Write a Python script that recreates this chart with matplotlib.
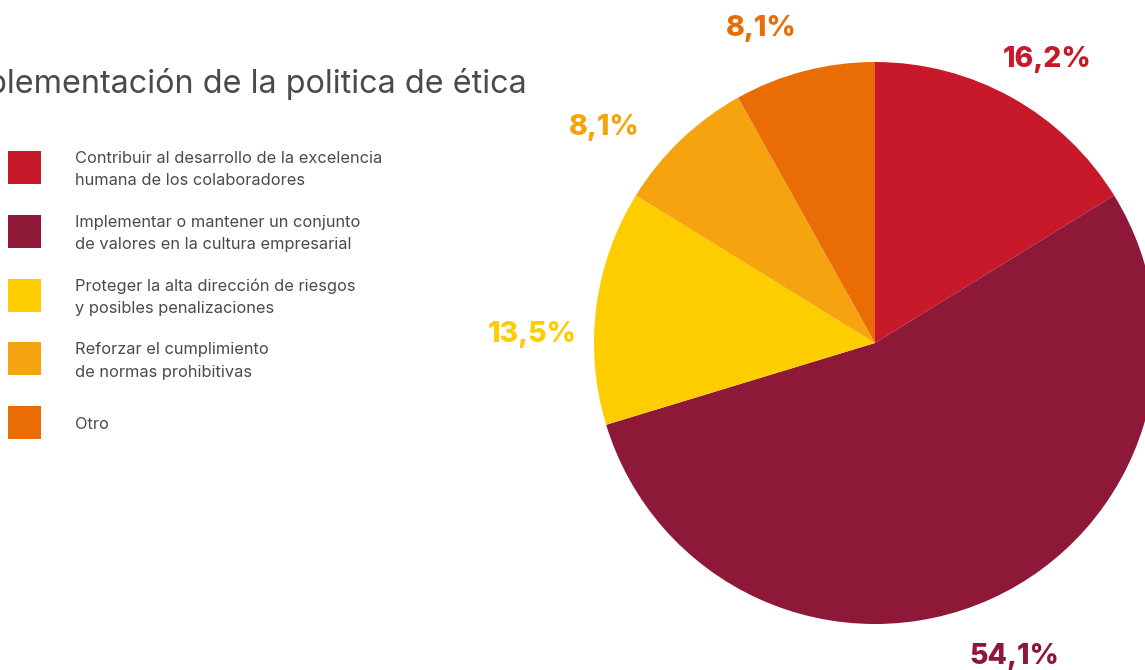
import matplotlib
matplotlib.use("Agg")
import matplotlib.pyplot as plt
import numpy as np
from matplotlib.patches import Rectangle

# ---- data ----
categories = [
    "Contribuir al desarrollo de la excelencia\nhumana de los colaboradores",
    "Implementar o mantener un conjunto\nde valores en la cultura empresarial",
    "Proteger la alta dirección de riesgos\ny posibles penalizaciones",
    "Reforzar el cumplimiento\nde normas prohibitivas",
    "Otro",
]
values = [16.2, 54.1, 13.5, 8.1, 8.1]
pct_labels = ["16,2%", "54,1%", "13,5%", "8,1%", "8,1%"]
title = "Implementación de la politica de ética"

# ---- style ----
colors = ["#C8192A", "#8E1838", "#FDCD00", "#F5A30F", "#EA6C05"]
text_gray = "#4A4A4A"
W, H = 1145, 670
center = (875, 343)
radius = 281
label_dist = [1.18, 1.22, 1.22, 1.23, 1.19]
label_dang = [2.2, 0.3, -5.9, -7.7, -5.3]

fig = plt.figure(figsize=(W / 100, H / 100), dpi=100)
ax = fig.add_axes([0, 0, 1, 1])

wedges, _ = ax.pie(values, colors=colors, startangle=-90, counterclock=True,
                   center=center, radius=radius, frame=True,
                   wedgeprops=dict(linewidth=0))
ax.set_xlim(0, W)
ax.set_ylim(H, 0)
ax.set_aspect("equal")
ax.axis("off")

for w, lab, c, d, da in zip(wedges, pct_labels, colors, label_dist, label_dang):
    ang = np.deg2rad((w.theta1 + w.theta2) / 2 + da)
    x = center[0] + radius * d * np.cos(ang)
    y = center[1] + radius * d * np.sin(ang)
    ax.text(x, y, lab, ha="center", va="center", color=c,
            fontsize=20.5, fontweight="heavy", family="Inter")

# title
ax.text(527, 84, title, ha="right", va="center", color=text_gray,
        fontsize=23.3, family="Inter")

# legend
for i, (lab, c) in enumerate(zip(categories, colors)):
    yc = 167.5 + i * 63.8
    ax.add_patch(Rectangle((8, yc - 16.5), 33, 33, facecolor=c, edgecolor="none"))
    ax.text(75, yc + 2, lab, ha="left", va="center", color=text_gray,
            fontsize=11.8, family="Inter", linespacing=1.6)

fig.savefig("out.png", dpi=100)
